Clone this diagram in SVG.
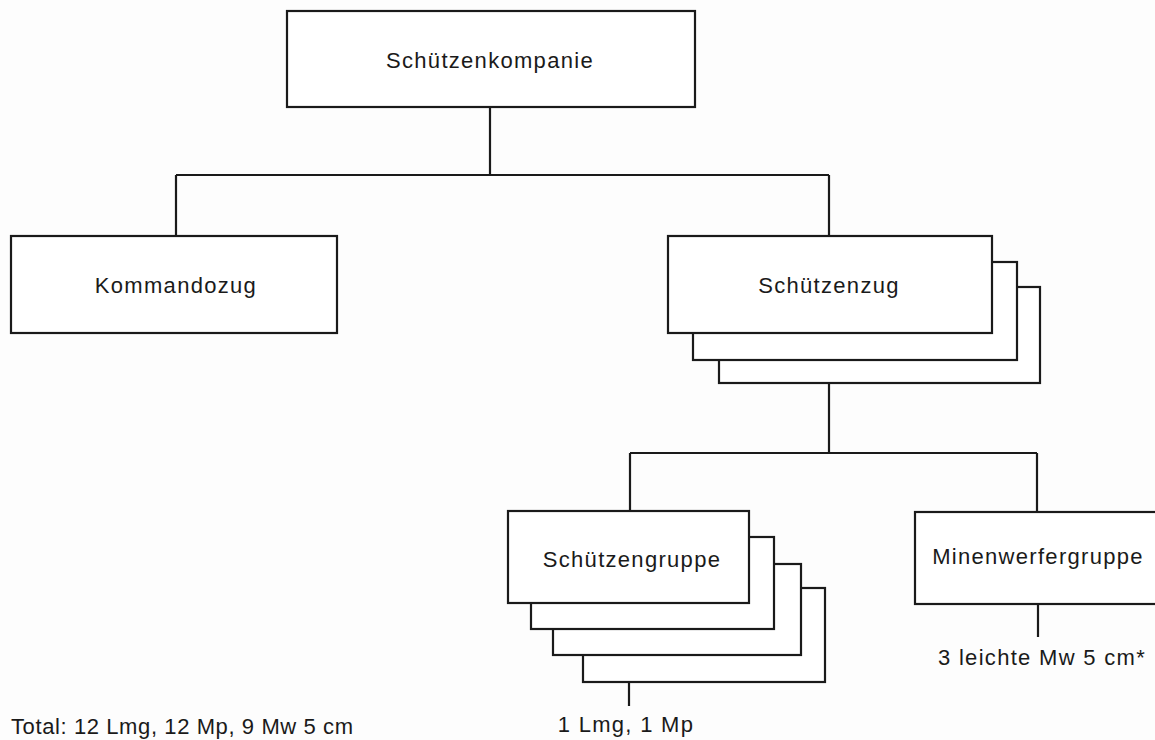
<svg xmlns="http://www.w3.org/2000/svg" width="1155" height="740" viewBox="0 0 1155 740">
<style>
.box{fill:#fff;stroke:#1a1a1a;stroke-width:2.2}
.ln{fill:none;stroke:#1a1a1a;stroke-width:2.2}
text{font-family:"Liberation Sans",Arial,sans-serif;font-size:22px;fill:#1a1a1a;letter-spacing:1.3px}
.c{text-anchor:middle}
.t{letter-spacing:0.6px}
</style>
<rect width="1155" height="740" fill="#fdfdfd"/>
<g id="connectors">
<path class="ln" d="M490 107V175M176 175H829M176 175V236M829 175V236M829 383V453M630 453H1037M630 453V511M1037 453V512M629 682V706M1038 604V637"/>
</g>
<g id="schuetzenkompanie">
<rect class="box" x="287" y="11" width="408" height="96"/>
<text class="c" x="490" y="68">Schützenkompanie</text>
</g>
<g id="kommandozug">
<rect class="box" x="11" y="236" width="326" height="97"/>
<text class="c" x="176" y="293">Kommandozug</text>
</g>
<g id="schuetzenzug">
<rect class="box" x="719" y="287" width="321" height="96"/>
<rect class="box" x="693" y="262" width="324" height="98"/>
<rect class="box" x="668" y="236" width="324" height="97"/>
<text class="c" x="829" y="293">Schützenzug</text>
</g>
<g id="schuetzengruppe">
<rect class="box" x="583" y="588" width="242" height="94"/>
<rect class="box" x="553" y="564" width="248" height="91"/>
<rect class="box" x="531" y="537" width="243" height="92"/>
<rect class="box" x="508" y="511" width="241" height="92"/>
<text class="c" x="632" y="567">Schützengruppe</text>
</g>
<g id="minenwerfergruppe">
<rect class="box" x="915" y="512" width="246" height="92"/>
<text class="c" x="1038" y="564">Minenwerfergruppe</text>
</g>
<g id="labels">
<text class="c" x="626" y="732">1 Lmg, 1 Mp</text>
<text class="c" x="1042" y="665">3 leichte Mw 5 cm*</text>
<text class="t" x="11" y="734">Total: 12 Lmg, 12 Mp, 9 Mw 5 cm</text>
</g>
</svg>
